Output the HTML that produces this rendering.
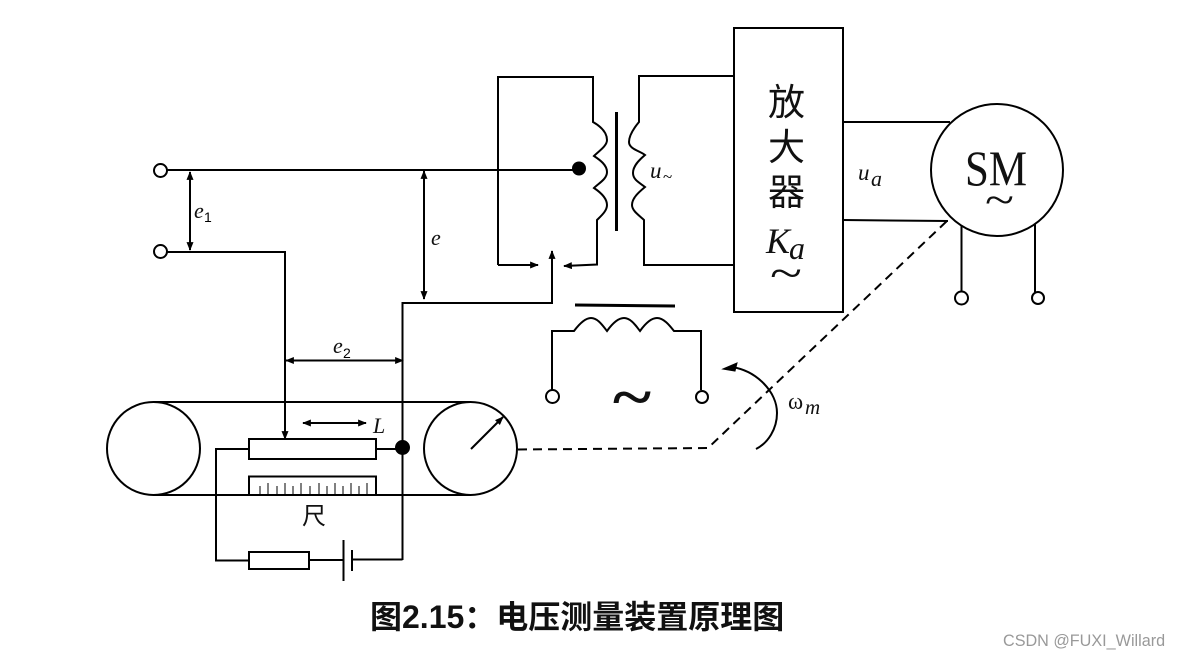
<!DOCTYPE html>
<html><head><meta charset="utf-8"><style>
html,body{margin:0;padding:0;background:#fff;width:1180px;height:658px;overflow:hidden}
svg{display:block}
.l{fill:none;stroke:#000;stroke-width:2}
.m{font-family:"Liberation Serif","DejaVu Serif",serif;font-style:italic;fill:#111}
.c{font-family:"Liberation Sans","Noto Sans CJK SC",sans-serif;fill:#111}
</style></head><body>
<svg width="1180" height="658" viewBox="0 0 1180 658" xmlns="http://www.w3.org/2000/svg">
<defs>
<marker id="a" viewBox="0 0 10 8" refX="9" refY="4" markerWidth="9" markerHeight="7" markerUnits="userSpaceOnUse" orient="auto-start-reverse"><path d="M0 0L10 4L0 8z" fill="#000"/></marker>
</defs>
<!-- input -->
<circle class="l" cx="160.500" cy="170.500" r="6.500"/>
<circle class="l" cx="160.500" cy="251.500" r="6.500"/>
<path class="l" d="M167 170H579"/>
<circle cx="579" cy="168.500" r="7"/>
<path class="l" d="M167 252H285V439" marker-end="url(#a)"/>
<path class="l" d="M190 172V250" marker-start="url(#a)" marker-end="url(#a)"/>
<path class="l" d="M424 171V299" marker-start="url(#a)" marker-end="url(#a)"/>
<path class="l" d="M286 360.500H403" marker-start="url(#a)" marker-end="url(#a)"/>
<!-- transformer -->
<path class="l" d="M498 265V77H593V122C600 126 607 132 607 140C607 146 599 151 594 156C600 160 607 165 607 172C607 179 599 183 594 188C600 192 607 198 607 205C607 211 601 216 597 220V264.500L564 266" marker-end="url(#a)"/>
<path class="l" d="M498 265H538" marker-end="url(#a)"/>
<path d="M616.500 112V231" fill="none" stroke="#000" stroke-width="3"/>
<path class="l" d="M734 76H639V122C634 128 629 135 629 142C629 149 640 151 645 155C639 160 633 166 633 173C633 180 640 183 645 187C639 192 632 198 632 205C632 211 640 216 644 220V265H734"/>
<path class="l" d="M402.500 560V303H552V251" marker-end="url(#a)"/>
<!-- amplifier -->
<rect class="l" x="734" y="28" width="109" height="284"/>
<path class="l" d="M843 122H950M843 220L948 221"/>
<circle class="l" cx="997" cy="170" r="66"/>
<path class="l" d="M961.500 226V291M1035 224V292"/>
<circle class="l" cx="961.500" cy="298" r="6.500"/>
<circle class="l" cx="1038" cy="298" r="6"/>
<!-- field coil -->
<path d="M575 305L675 306" fill="none" stroke="#000" stroke-width="3"/>
<path class="l" d="M552 390V331H574C580 323 586 318 591 318C598 318 603 326 607 331C612 324 618 318 624 318C631 318 636 326 640 331C645 324 651 318 657 318C664 318 670 326 674 331H701V390"/>
<circle class="l" cx="552.500" cy="396.500" r="6.500"/>
<circle class="l" cx="702" cy="397" r="6"/>
<!-- belt -->
<circle class="l" cx="153.500" cy="448.500" r="46.500"/>
<circle class="l" cx="470.500" cy="448.500" r="46.500"/>
<path class="l" d="M153 402H470M153 495H470"/>
<path class="l" d="M471 449L503 417" marker-end="url(#a)"/>
<rect class="l" x="249" y="439" width="127" height="20"/>
<path class="l" d="M249 495V476.500H376V495"/>
<path d="M260 486V496M268 483V496M277 486V496M285 483V496M293 486V496M301 483V496M310 486V496M319 483V496M327 486V496M335 483V496M343 486V496M351 483V496M359 486V496M367 483V496" stroke="#000" stroke-width="1" fill="none"/>
<path class="l" d="M303 423H366" marker-start="url(#a)" marker-end="url(#a)"/>
<circle cx="402.500" cy="447.500" r="7.500"/>
<path class="l" d="M376 449H402M249 449H216V560.500H249"/>
<rect class="l" x="249" y="552" width="60" height="17"/>
<path class="l" d="M309 560H343M352 559.500H402.500M343.500 540V581M352 550V571"/>
<!-- shaft -->
<path d="M518 449.500L708 448L948 220" fill="none" stroke="#000" stroke-width="2" stroke-dasharray="9 6"/>
<path class="l" d="M756 449C768 443 777 429 777 413C777 392 757 371 732 367"/>
<path d="M723 369L737 363L735 371z" fill="#000" stroke="#000"/>
<!-- labels -->
<text class="m" x="194" y="218" font-size="22">e</text><text x="204" y="222" font-family="Liberation Sans,sans-serif" font-size="14">1</text>
<text class="m" x="431" y="245" font-size="22">e</text>
<text class="m" x="333" y="353" font-size="22">e</text><text x="343" y="358" font-family="Liberation Sans,sans-serif" font-size="14">2</text>
<text class="m" x="373" y="433" font-size="22">L</text>
<text class="m" x="650" y="178" font-size="23">u</text><text x="663" y="182" font-family="Liberation Serif,serif" font-size="17">~</text>
<text class="m" x="858" y="180" font-size="23">u</text><text class="m" x="871" y="186" font-size="22">a</text>
<text x="788" y="409" font-family="Liberation Serif,serif" font-size="23" fill="#111">ω</text><text class="m" x="805" y="414" font-size="21">m</text>
<text class="c" x="302" y="524" font-size="24">尺</text>
<text class="c" x="768" y="115" font-size="37">放</text>
<text class="c" x="768" y="160" font-size="37">大</text>
<text class="c" x="768" y="205" font-size="37">器</text>
<text class="m" x="766" y="253" font-size="36" textLength="24" lengthAdjust="spacingAndGlyphs">K</text><text class="m" x="789" y="259" font-size="32">a</text>
<text x="770" y="288" font-family="Liberation Serif,serif" font-size="44" fill="#111" textLength="32" lengthAdjust="spacingAndGlyphs">~</text>
<text x="965" y="185" font-family="Liberation Serif,serif" font-size="50" fill="#111" textLength="62" lengthAdjust="spacingAndGlyphs">SM</text>
<text x="985" y="214" font-family="Liberation Serif,serif" font-size="42" fill="#111" textLength="29" lengthAdjust="spacingAndGlyphs">~</text>
<text x="613" y="417" font-family="Liberation Serif,serif" font-size="60" font-weight="bold" fill="#111" textLength="38" lengthAdjust="spacingAndGlyphs">~</text>
<text x="370" y="628" font-family="Liberation Sans,Noto Sans CJK SC,sans-serif" font-size="32" font-weight="bold" fill="#111">图2.15：电压测量装置原理图</text>
<text x="1003" y="646" font-family="Liberation Sans,sans-serif" font-size="16.200" fill="#999">CSDN @FUXI_Willard</text>
</svg>
</body></html>
